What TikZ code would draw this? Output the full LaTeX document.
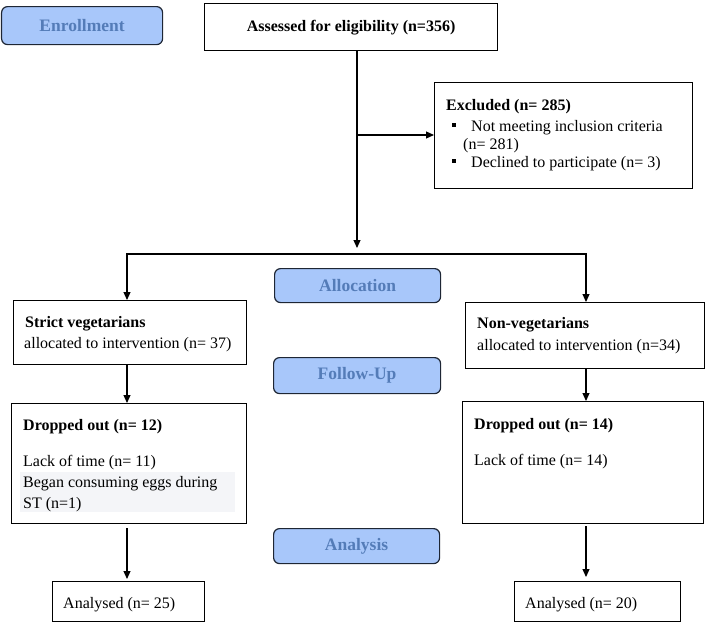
\documentclass[tikz,border=0pt]{standalone}
\usepackage{fontspec}
\setmainfont{Liberation Serif}
\usetikzlibrary{arrows.meta}
\definecolor{hdrfill}{RGB}{168,199,250}
\definecolor{hdrtext}{RGB}{84,124,184}
\definecolor{hdrline}{RGB}{30,38,52}
\definecolor{lightshade}{RGB}{244,245,248}
\tikzset{
  box/.style={draw=black, line width=1.2pt, fill=white, anchor=north west, inner sep=0pt},
  hdr/.style={draw=hdrline, line width=1.2pt, fill=hdrfill, rounded corners=6pt, anchor=north west, inner sep=0pt},
  hdrlabel/.style={text=hdrtext, font=\fontsize{17.5}{20}\selectfont\bfseries, inner sep=0pt},
  txt/.style={anchor=base west, inner sep=0pt, font=\fontsize{16}{19}\selectfont},
  btxt/.style={txt, font=\fontsize{16}{19}\selectfont\bfseries},
  bullet/.style={fill=black, inner sep=0pt, minimum size=4pt},
  arr/.style={line width=1.1pt, -{Triangle[length=8pt,width=7pt]}},
  ln/.style={line width=1.1pt}
}
\begin{document}
\begin{tikzpicture}[x=1pt,y=-1pt]
\useasboundingbox (0,0) rectangle (709,622);
% headers
\node[hdr, minimum width=161pt, minimum height=38pt] (enroll) at (1,6) {};
\node[hdrlabel] (enrollt) at (enroll.center) {Enrollment};
\node[hdr, minimum width=166pt, minimum height=34pt] (alloc) at (274,268) {};
\node[hdrlabel] (alloct) at (alloc.center) {Allocation};
\node[hdr, minimum width=167pt, minimum height=36pt] (follow) at (273,357) {};
\node[hdrlabel] (followt) at (follow.center) {Follow-Up};
\node[hdr, minimum width=166pt, minimum height=35pt] (analysis) at (273,528) {};
\node[hdrlabel] (analysist) at (analysis.center) {Analysis};
% boxes
\node[box, minimum width=293pt, minimum height=47pt] (assess) at (204,3) {};
\node[btxt, anchor=center] (assesst) at ([yshift=-1pt]assess.center) {Assessed for eligibility (n=356)};
\node[box, minimum width=258pt, minimum height=106pt] (excl) at (434,82) {};
\node[btxt] (exclt) at (446,110) {Excluded (n= 285)};
\node[bullet] (b1) at (454,125) {};
\node[txt] (ex1) at (471,131) {Not meeting inclusion criteria};
\node[txt] (ex2) at (463,149) {(n= 281)};
\node[bullet] (b2) at (454,161) {};
\node[txt] (ex3) at (471,167) {Declined to participate (n= 3)};
\node[box, minimum width=233pt, minimum height=64pt] (strict) at (13,300) {};
\node[btxt] (strict1) at (25,327) {Strict vegetarians};
\node[txt] (strict2) at (24,348) {allocated to intervention (n= 37)};
\node[box, minimum width=239pt, minimum height=66pt] (nonveg) at (465,302) {};
\node[btxt] (nonveg1) at (477,328) {Non-vegetarians};
\node[txt] (nonveg2) at (477,350) {allocated to intervention (n=34)};
\node[box, minimum width=235pt, minimum height=120pt] (dropL) at (11,403) {};
\fill[fill=lightshade] (20,472) rectangle (235,512);
\node[btxt] (dropL1) at (23,430) {Dropped out (n= 12)};
\node[txt] (dropL2) at (23,466) {Lack of time (n= 11)};
\node[txt] (dropL3) at (23,487) {Began consuming eggs during};
\node[txt] (dropL4) at (23,508) {ST (n=1)};
\node[box, minimum width=241pt, minimum height=122pt] (dropR) at (462,401) {};
\node[btxt] (dropR1) at (474,429) {Dropped out (n= 14)};
\node[txt] (dropR2) at (474,465) {Lack of time (n= 14)};
\node[box, minimum width=152pt, minimum height=40pt] (anaL) at (52,581) {};
\node[txt] (anaLt) at (63,608) {Analysed (n= 25)};
\node[box, minimum width=166pt, minimum height=40pt] (anaR) at (514,581) {};
\node[txt] (anaRt) at (525,608) {Analysed (n= 20)};
% connectors
\coordinate (main) at (357,0);
\coordinate (colL) at (127,0);
\coordinate (colR) at (586,0);
\coordinate (split) at (357,254);
\coordinate (exb) at (357,135);
\draw[arr, shorten >=6pt] (assess.south -| main) -- (split);
\draw[arr] (exb) -- (excl.west |- exb);
\draw[ln] (split) -- (split -| colR);
\draw[arr] (split) -| (strict.north -| colL);
\draw[arr] (split) -| (nonveg.north -| colR);
\draw[arr] (strict.south -| colL) -- (dropL.north -| colL);
\draw[arr] (nonveg.south -| colR) -- (dropR.north -| colR);
\draw[arr, shorten <=4pt, shorten >=2pt] (dropL.south -| colL) -- (anaL.north -| colL);
\draw[arr, shorten <=2pt, shorten >=4pt] (dropR.south -| colR) -- (anaR.north -| colR);
\end{tikzpicture}
\end{document}
